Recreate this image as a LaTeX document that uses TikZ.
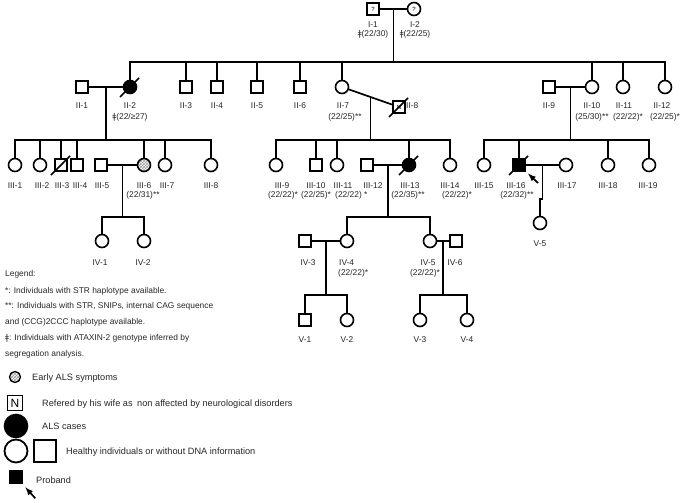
\documentclass[tikz,border=0pt]{standalone}
\usepackage{fontspec}
\setmainfont{Liberation Sans}
\newfontfamily\symfont{DejaVu Sans}
\usetikzlibrary{calc,patterns}
\newcommand{\segr}{{\symfont ǂ}}
\newcommand{\deceased}[1]{\draw[link] ($(#1.center)+(-10,10)$) -- ($(#1.center)+(9,-9)$);}

\begin{document}
\begin{tikzpicture}[x=1pt,y=-1pt]
% Pixel grid of the figure, y running downwards.
\useasboundingbox (0,0) rectangle (686,503);

% This determines how the symbols look.
\tikzstyle{male}=[draw,rectangle,line width=1.6pt,minimum size=12.5pt,inner sep=0pt,fill=white,font=\fontsize{6}{6}\selectfont]
\tikzstyle{female}=[draw,circle,line width=1.6pt,minimum size=13pt,inner sep=0pt,fill=white,font=\fontsize{6}{6}\selectfont]
\tikzstyle{affected}=[fill=black]
\tikzstyle{early}=[pattern=crosshatch,pattern color=gray!80]
\tikzstyle{link}=[line width=1.7pt]
\tikzstyle{lbl}=[font=\fontsize{8.4}{10}\selectfont,text=black!85,inner sep=0pt,anchor=base]
\tikzstyle{legendtext}=[lbl,anchor=base west]
\tikzstyle{keytext}=[legendtext,font=\fontsize{9.2}{11}\selectfont]

% Heights of the sibship lines.
\coordinate (barII) at (0,62);
\coordinate (barIII) at (0,140);
\coordinate (barIV) at (0,217);
\coordinate (barV) at (0,295);

% This draws generation I.
\node[male] (I1) at (373,9) {?};
\node[female] (I2) at (414,9) {?};
\node[lbl] at (373,28) {I-1};
\node[lbl] at (373,37) {\segr(22/30)};
\node[lbl] at (415,28) {I-2};
\node[lbl] at (415,37) {\segr(22/25)};

% This draws generation II.
\node[male] (II1) at (82,87) {};
\node[female,affected] (II2) at (130,87) {};
\node[male] (II3) at (186,87) {};
\node[male] (II4) at (217,87) {};
\node[male] (II5) at (257,87) {};
\node[male] (II6) at (300,87) {};
\node[female] (II7) at (342,87) {};
\node[male] (II8) at (399,107) {N};
\node[male] (II9) at (549,87) {};
\node[female] (II10) at (592,87) {};
\node[female] (II11) at (623,87) {};
\node[female] (II12) at (665,87) {};

\node[lbl] at (82,108) {II-1};
\node[lbl] at (130,108) {II-2};
\node[lbl] at (130,119) {\segr(22/≥27)};
\node[lbl] at (186,108) {II-3};
\node[lbl] at (217,108) {II-4};
\node[lbl] at (257,108) {II-5};
\node[lbl] at (300,108) {II-6};
\node[lbl] at (343,108) {II-7};
\node[lbl] at (345,119) {(22/25)**};
\node[lbl,anchor=base west] at (406,109) {II-8};
\node[lbl] at (549,108) {II-9};
\node[lbl] at (592,108) {II-10};
\node[lbl] at (592,119) {(25/30)**};
\node[lbl] at (624,108) {II-11};
\node[lbl] at (628,119) {(22/22)*};
\node[lbl] at (662,108) {II-12};
\node[lbl] at (665,119) {(22/25)*};

% This draws generation III.
\node[female] (III1) at (15,165) {};
\node[female] (III2) at (40,165) {};
\node[male] (III3) at (61,165) {};
\node[male] (III4) at (77,165) {};
\node[male] (III5) at (101,165) {};
\node[female,early] (III6) at (144,165) {};
\node[female] (III7) at (165,165) {};
\node[female] (III8) at (211,165) {};
\node[female] (III9) at (276,165) {};
\node[male] (III10) at (316,165) {};
\node[female] (III11) at (337,165) {};
\node[male] (III12) at (367,165) {};
\node[female,affected] (III13) at (409,165) {};
\node[female] (III14) at (450,165) {};
\node[female] (III15) at (484,165) {};
\node[male,affected] (III16) at (519,165) {};
\node[female] (III17) at (566,165) {};
\node[female] (III18) at (608,165) {};
\node[female] (III19) at (649,165) {};

\node[lbl] at (15,188) {III-1};
\node[lbl] at (42,188) {III-2};
\node[lbl] at (62,188) {III-3};
\node[lbl] at (80,188) {III-4};
\node[lbl] at (102,188) {III-5};
\node[lbl] at (144,188) {III-6};
\node[lbl] at (143,197) {(22/31)**};
\node[lbl] at (167,188) {III-7};
\node[lbl] at (211,188) {III-8};
\node[lbl] at (282,188) {III-9};
\node[lbl] at (283,197) {(22/22)*};
\node[lbl] at (316,188) {III-10};
\node[lbl] at (316,197) {(22/25)*};
\node[lbl] at (343,188) {III-11};
\node[lbl,anchor=base west] at (335,197) {(22/22) *};
\node[lbl] at (373,188) {III-12};
\node[lbl] at (410,188) {III-13};
\node[lbl] at (408,197) {(22/35)**};
\node[lbl] at (450,188) {III-14};
\node[lbl] at (457,197) {(22/22)*};
\node[lbl] at (484,188) {III-15};
\node[lbl] at (516,188) {III-16};
\node[lbl] at (517,197) {(22/32)**};
\node[lbl] at (567,188) {III-17};
\node[lbl] at (608,188) {III-18};
\node[lbl] at (648,188) {III-19};

% This draws generations IV and V.
\node[female] (IV1) at (102,241) {};
\node[female] (IV2) at (144,241) {};
\node[male] (IV3) at (305,241) {};
\node[female] (IV4) at (347,241) {};
\node[female] (IV5) at (430,241) {};
\node[male] (IV6) at (456,241) {};
\node[female] (V5) at (540,223) {};
\node[male] (V1) at (305,320) {};
\node[female] (V2) at (347,320) {};
\node[female] (V3) at (420,320) {};
\node[female] (V4) at (467,320) {};

\node[lbl] at (100,265) {IV-1};
\node[lbl] at (143,265) {IV-2};
\node[lbl] at (308,265) {IV-3};
\node[lbl,anchor=base west] at (339,265) {IV-4};
\node[lbl,anchor=base west] at (338,275) {(22/22)*};
\node[lbl] at (428,265) {IV-5};
\node[lbl] at (425,275) {(22/22)*};
\node[lbl] at (455,265) {IV-6};
\node[lbl] at (540,246) {V-5};
\node[lbl] at (305,342) {V-1};
\node[lbl] at (347,342) {V-2};
\node[lbl] at (420,342) {V-3};
\node[lbl] at (467,342) {V-4};

% This draws the mating lines and the descent lines.
\draw[link] (I1) -- (I2) coordinate[midway] (mI);
\draw[link] (mI) -- (mI |- barII);
\draw[link] (II2) -- (II2 |- barII) -- (II12 |- barII) -- (II12);
\draw[link] (II3) -- (II3 |- barII);
\draw[link] (II4) -- (II4 |- barII);
\draw[link] (II5) -- (II5 |- barII);
\draw[link] (II6) -- (II6 |- barII);
\draw[link] (II7) -- (II7 |- barII);
\draw[link] (II10) -- (II10 |- barII);
\draw[link] (II11) -- (II11 |- barII);

\draw[link] (II1) -- (II2) coordinate[midway] (m12);
\draw[link] (m12) -- (m12 |- barIII);
\draw[link] (III1) -- (III1 |- barIII) -- (III8 |- barIII) -- (III8);
\draw[link] (III2) -- (III2 |- barIII);
\draw[link] (III3) -- (III3 |- barIII);
\draw[link] (III4) -- (III4 |- barIII);
\draw[link] (III6) -- (III6 |- barIII);
\draw[link] (III7) -- (III7 |- barIII);

\draw[link] (II7) -- (II8) coordinate[midway] (m78);
\draw[link] (m78) -- (m78 |- barIII);
\draw[link] (III9) -- (III9 |- barIII) -- (III14 |- barIII) -- (III14);
\draw[link] (III10) -- (III10 |- barIII);
\draw[link] (III11) -- (III11 |- barIII);
\draw[link] (III13) -- (III13 |- barIII);

\draw[link] (II9) -- (II10) coordinate[midway] (m910);
\draw[link] (m910) -- (m910 |- barIII);
\draw[link] (III15) -- (III15 |- barIII) -- (III19 |- barIII) -- (III19);
\draw[link] (III16) -- (III16 |- barIII);
\draw[link] (III18) -- (III18 |- barIII);

\draw[link] (III5) -- (III6) coordinate[midway] (m56);
\draw[link] (m56) -- (m56 |- barIV);
\draw[link] (IV1) -- (IV1 |- barIV) -- (IV2 |- barIV) -- (IV2);

\draw[link] (III12) -- (III13) coordinate[midway] (m1213);
\draw[link] (m1213) -- (m1213 |- barIV);
\draw[link] (IV4) -- (IV4 |- barIV) -- (IV5 |- barIV) -- (IV5);

\draw[link] (III16) -- (III17) coordinate[midway] (m1617);
\coordinate (jog) at (540,199);
\draw[link] (m1617) |- (jog) -- (V5);

\draw[link] (IV3) -- (IV4) coordinate[midway] (m34);
\draw[link] (m34) -- (m34 |- barV);
\draw[link] (V1) -- (V1 |- barV) -- (V2 |- barV) -- (V2);

\draw[link] (IV5) -- (IV6) coordinate[midway] (m56b);
\draw[link] (m56b) -- (m56b |- barV);
\draw[link] (V3) -- (V3 |- barV) -- (V4 |- barV) -- (V4);

% This marks the deceased and the proband.
\deceased{II2}
\deceased{II8}
\deceased{III3}
\deceased{III13}
\deceased{III16}
\draw[link,-latex] ($(III16.south east)+(12,11)$) -- ($(III16.south east)+(2,1.5)$);

% This draws the legend.
\node[legendtext] at (5,276) {Legend:};
\node[legendtext] at (5,293) {*: Individuals with STR haplotype available.};
\node[legendtext] at (5,308) {**: Individuals with STR, SNIPs, internal CAG sequence};
\node[legendtext] at (5,324) {and (CCG)2CCC haplotype available.};
\node[legendtext] at (5,340) {\segr: Individuals with ATAXIN-2 genotype inferred by};
\node[legendtext] at (5,356) {segregation analysis.};

\node[female,early,minimum size=11pt,line width=1.3pt] (Learly) at (15,377) {};
\node[keytext] at (32,380) {Early ALS symptoms};
\node[male,minimum size=15pt,font=\fontsize{12}{12}\selectfont] (LN) at (15,403) {N};
\node[keytext] at (42,406) {Refered by his wife as\hspace{2pt} non affected by neurological disorders};
\node[female,affected,minimum size=23pt] (Lals) at (16,426) {};
\node[keytext] at (42,429) {ALS cases};
\node[female,minimum size=23pt,line width=1.8pt] (Lhf) at (16,451) {};
\node[male,minimum size=22pt,line width=1.8pt] (Lhm) at (45,451) {};
\node[keytext] at (66,454) {Healthy individuals or without DNA information};
\node[male,affected,minimum size=13pt] (Lpro) at (16,477) {};
\draw[link,-latex] ($(Lpro.south east)+(12,14)$) -- ($(Lpro.south east)+(2,3)$);
\node[keytext] at (36,483) {Proband};

\end{tikzpicture}
\end{document}
